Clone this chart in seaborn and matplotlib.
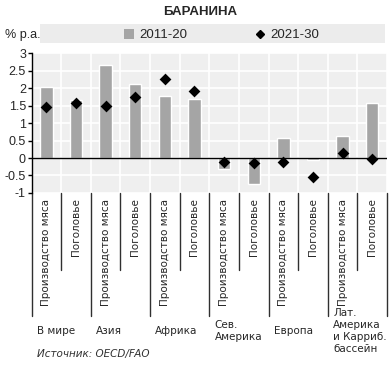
import matplotlib
matplotlib.use("Agg")
import matplotlib.pyplot as plt
import matplotlib.transforms as mtrans
from matplotlib.patches import Patch, Rectangle
from matplotlib.lines import Line2D
import numpy as np
import pandas as pd
import seaborn as sns

# data
regions = ["В мире", "Азия", "Африка", "Сев.\nАмерика", "Европа",
           "Лат.\nАмерика\nи Карриб.\nбассейн"]
items = ["Производство мяса", "Поголовье"]
growth_2011_20 = [2.02, 1.65, 2.65, 2.13, 1.78, 1.70, -0.30, -0.75, 0.58, -0.07, 0.63, 1.57]
growth_2021_30 = [1.47, 1.58, 1.49, 1.75, 2.27, 1.93, -0.12, -0.15, -0.10, -0.54, 0.14, -0.03]
yticks = [-1, -0.5, 0, 0.5, 1, 1.5, 2, 2.5, 3]

keys = [f"{r}|{i}" for r in regions for i in items]
df = pd.DataFrame({"key": keys,
                   "item": [i for r in regions for i in items],
                   "v1": growth_2011_20,
                   "v2": growth_2021_30})

sns.set_style("white")
plt.rcParams['font.family'] = ['DejaVu Sans']

fig = plt.figure(figsize=(3.89, 3.74), dpi=100)
ax = fig.add_axes([0.081, 0.484, 0.914, 0.374])
ax.set_facecolor("#efefef")

sns.barplot(data=df, x="key", y="v1", color="#a5a5a5", width=0.42,
            saturation=1, ax=ax, zorder=3)
sns.stripplot(data=df, x="key", y="v2", jitter=False, marker="D",
              color="black", size=6, ax=ax, zorder=5)

ax.set_xlim(-0.5, len(keys) - 0.5)
ax.set_ylim(-1, 3)
ax.set_xlabel("")
ax.set_ylabel("")

arial = ['Liberation Sans', 'DejaVu Sans']
ax.set_yticks(yticks)
ax.set_yticklabels([f"{t:g}" for t in yticks], family=arial, fontsize=9)
ax.tick_params(axis="y", length=3, width=1, color="black", pad=1, left=True)
ax.set_xticks(range(len(keys)))
ax.set_xticklabels(df["item"], rotation=90, fontsize=7.5, va="top")
ax.tick_params(axis="x", length=0, pad=4)

ax.set_xticks(np.arange(-0.5, len(keys), 1), minor=True)
ax.tick_params(axis="x", which="minor", length=0)
ax.grid(which="minor", axis="x", color="white", lw=1.2, zorder=0)
ax.grid(which="major", axis="y", color="white", lw=1.2, zorder=0)
ax.set_axisbelow(True)

for s in ["top", "right", "bottom"]:
    ax.spines[s].set_visible(False)
ax.spines["left"].set_color("black")
ax.spines["left"].set_linewidth(1)
ax.axhline(0, color="black", lw=1, zorder=4)

# multi-level category separators
trans = mtrans.blended_transform_factory(ax.transData, ax.transAxes)
for k in range(len(keys) + 1):
    depth = -0.88 if k % 2 == 0 else -0.55
    ax.plot([k - 0.5, k - 0.5], [0, depth], color="#303030", lw=1,
            transform=trans, clip_on=False)
for g, name in enumerate(regions):
    ax.text(2 * g - 0.5 + 0.18, -0.985, name, transform=trans, ha="left",
            va="center", fontsize=7.5, linespacing=1.25)

# title, unit and legend strip
fig.text(0.515, 0.968, "БАРАНИНА", ha="center", va="center",
         fontsize=9.5, fontweight="bold", family=arial)
fig.patches.append(Rectangle((0.103, 0.885), 0.887, 0.051, transform=fig.transFigure,
                             facecolor="#ececec", edgecolor="none", zorder=0))
fig.text(0.013, 0.906, "% p.a.", ha="left", va="center", fontsize=9, family=arial)

leg_kw = dict(loc="center left", frameon=False, handlelength=0.8,
              handletextpad=0.35, handleheight=0.8, borderaxespad=0,
              borderpad=0, prop={"family": arial, "size": 9.5})
fig.legend([Patch(facecolor="#a5a5a5", edgecolor="none")], ["2011-20"],
           bbox_to_anchor=(0.318, 0.906), **leg_kw)
fig.legend([Line2D([], [], marker="D", color="black", ls="none", markersize=4)],
           ["2021-30"], bbox_to_anchor=(0.655, 0.906), **leg_kw)

fig.text(0.095, 0.053, "Источник: OECD/FAO", ha="left", va="center",
         fontsize=7.5, style="italic", color="#303030")

fig.savefig("out.png", dpi=100)
